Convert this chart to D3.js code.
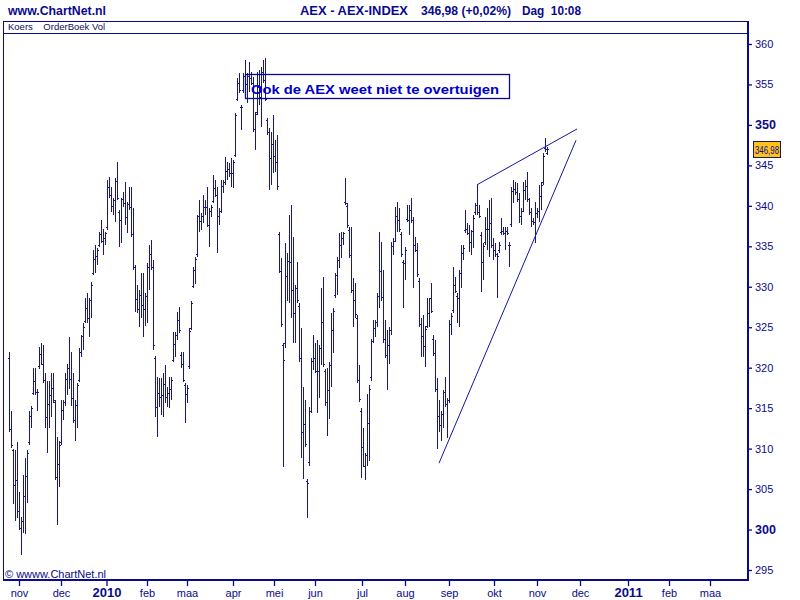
<!DOCTYPE html>
<html>
<head>
<meta charset="utf-8">
<script src="https://cdn.jsdelivr.net/npm/d3@7"></script>
<style>
  body { margin: 0; background: #fff; }
</style>
</head>
<body>
<div id="chart"></div>
<script>
// daily AEX bars, end Oct 2009 .. early Nov 2010
const highs = [
  321.9,314.7,310.0,309.8,310.8,304.6,301.5,306.7,308.9,309.8,
  314.7,315.3,320.0,320.0,317.4,322.5,323.1,322.8,319.3,318.4,
  318.4,319.3,319.3,316.0,311.4,311.0,316.0,316.0,319.3,320.5,
  323.8,321.9,319.3,316.0,318.1,322.4,324.0,325.5,328.6,329.2,
  328.6,330.6,334.5,335.1,334.8,336.8,338.2,337.2,336.8,343.2,
  343.6,342.3,341.0,343.4,345.4,339.5,341.0,341.7,343.0,340.5,
  342.3,342.3,339.7,332.7,330.2,329.6,331.7,331.7,329.2,332.9,
  335.1,335.8,333.3,321.5,318.8,318.7,318.7,319.3,320.3,317.6,
  318.8,318.8,324.4,324.4,326.9,327.5,321.9,321.9,318.1,317.8,
  324.9,328.3,332.4,333.7,338.9,340.7,339.1,341.3,340.7,342.3,
  339.7,340.1,343.8,343.2,342.3,339.7,343.2,343.2,346.0,345.4,
  345.3,345.9,345.7,351.5,355.8,356.4,352.5,356.4,358.0,356.4,
  357.8,356.6,355.9,351.6,356.6,356.8,357.1,358.0,358.3,350.9,
  349.6,349.1,351.2,348.1,348.8,336.8,333.5,323.1,335.4,334.2,
  338.9,340.1,336.1,330.2,333.0,328.0,324.9,317.6,316.0,306.3,
  315.1,321.2,324.0,323.0,323.4,322.8,329.8,331.2,319.9,320.0,
  320.7,326.7,327.4,331.7,333.7,336.6,336.8,336.8,343.4,340.4,
  337.4,337.4,331.1,330.5,326.5,320.3,315.0,312.6,309.5,316.8,
  317.8,323.6,325.9,325.9,329.2,336.8,335.5,332.1,325.9,324.6,
  325.0,335.5,336.0,339.9,340.5,339.7,336.8,333.3,334.9,340.1,
  340.1,341.0,338.6,336.1,335.4,331.1,326.2,326.5,325.2,328.6,
  328.6,330.5,324.0,323.4,318.7,316.0,314.7,317.2,318.8,316.3,
  325.9,326.7,332.4,331.2,329.2,332.1,335.1,335.1,339.5,337.9,
  337.6,337.0,338.9,340.4,342.6,340.1,336.8,335.4,338.6,339.7,
  340.7,341.0,336.0,335.4,334.2,335.5,338.5,337.4,337.4,337.4,
  335.5,342.3,343.2,342.9,342.8,341.6,339.7,342.9,343.2,344.2,
  341.0,339.7,338.5,340.5,339.7,342.6,342.9,346.5,348.4,347.3
];
const lows = [
  312.0,310.1,303.2,301.1,301.4,299.9,296.8,299.6,299.5,303.3,
  310.4,312.6,316.6,316.6,314.7,319.9,320.3,318.1,312.5,309.4,
  312.6,313.9,315.6,306.1,300.5,305.2,310.4,313.5,315.3,316.6,
  317.4,315.3,313.2,311.0,312.6,318.2,321.3,322.2,325.5,325.5,
  323.8,326.2,331.4,331.7,332.7,334.9,335.4,333.9,335.2,337.0,
  341.0,339.2,338.9,338.0,340.7,334.9,335.4,339.9,337.6,336.6,
  339.5,336.1,332.1,326.9,326.7,325.0,326.2,323.8,325.2,325.5,
  329.6,332.1,322.2,313.9,311.4,315.1,314.1,313.9,315.6,315.1,
  315.0,316.0,320.7,321.3,323.4,324.3,320.0,318.2,313.2,315.6,
  319.9,324.6,329.8,330.4,333.7,336.8,337.0,337.9,338.9,337.4,
  334.9,338.6,340.3,341.1,334.2,337.6,339.1,341.6,342.6,343.2,
  343.6,342.3,342.2,346.0,352.9,354.0,349.4,354.0,354.9,352.7,
  354.1,354.9,349.1,346.9,351.2,352.5,349.8,355.2,352.9,348.8,
  342.0,342.6,344.1,344.2,342.0,331.7,325.0,307.7,322.4,328.3,
  328.0,326.1,323.1,323.1,328.0,320.7,308.8,306.3,310.2,301.4,
  307.9,314.4,319.7,319.3,314.4,316.3,320.3,320.1,315.3,311.6,
  313.7,317.6,321.8,328.6,329.0,332.3,333.5,335.1,340.1,337.3,
  333.5,329.2,325.0,326.2,318.1,315.7,306.4,307.7,306.1,307.9,
  308.5,318.4,323.0,323.8,325.0,327.4,328.3,323.0,321.2,317.2,
  320.5,324.0,333.9,335.5,336.8,336.8,333.7,327.4,330.8,338.0,
  336.4,337.9,329.8,334.3,331.2,325.0,321.3,321.3,320.1,324.9,
  325.0,326.7,321.5,317.0,310.0,312.0,311.0,312.5,315.1,311.3,
  315.6,324.0,326.7,329.2,325.5,325.0,329.8,333.3,336.6,336.4,
  334.3,333.9,334.8,338.9,338.9,338.5,329.3,330.8,335.1,334.5,
  333.7,334.8,333.3,333.7,328.6,334.2,336.4,336.4,334.5,336.4,
  332.4,337.4,340.4,341.3,340.5,337.9,337.6,339.2,340.7,340.5,
  338.9,337.4,337.6,335.4,338.5,338.0,339.5,342.6,346.7,346.3
];
const opens = [
  321.2,312.4,309.8,305.5,306.1,302.3,300.2,301.0,304.2,306.6,
  310.8,314.0,316.9,318.3,317.0,320.2,321.7,320.5,318.5,313.9,
  315.5,316.6,317.5,315.7,306.5,308.1,310.8,314.8,315.7,318.6,
  320.0,318.6,316.3,313.5,315.4,318.5,322.0,323.9,325.8,327.4,
  326.2,328.4,331.7,333.4,333.8,335.2,336.5,335.6,336.0,337.4,
  342.3,341.3,340.0,340.7,343.1,339.2,338.2,340.8,340.3,338.6,
  340.2,339.8,336.5,332.5,328.5,327.3,329.0,327.8,327.2,328.8,
  332.4,334.0,332.5,321.2,315.1,316.9,316.4,316.6,318.0,316.4,
  316.9,317.4,321.0,322.9,324.0,325.9,321.6,320.4,317.8,316.7,
  320.2,324.9,330.1,332.1,334.0,338.8,338.1,338.8,339.8,339.9,
  337.6,339.4,340.6,342.2,341.4,338.7,339.4,342.4,343.0,344.3,
  344.5,344.1,344.0,346.3,353.2,355.2,352.2,354.3,356.0,355.0,
  356.0,355.8,355.2,349.5,351.6,354.7,353.5,356.6,355.6,350.6,
  349.1,345.9,347.7,346.2,345.4,336.5,332.0,322.8,323.0,331.3,
  333.2,333.1,329.6,326.7,329.8,327.6,321.2,312.0,313.1,306.0,
  308.3,314.6,320.8,321.2,319.6,319.6,322.4,325.7,319.6,315.8,
  317.2,320.3,324.6,329.0,331.4,333.3,335.2,336.0,340.5,340.0,
  337.0,333.9,329.6,328.4,326.1,318.5,314.6,310.2,307.8,309.2,
  313.2,318.8,323.3,324.9,325.6,328.9,331.9,328.7,323.6,321.6,
  322.8,324.6,335.0,335.7,338.7,338.3,336.5,333.0,332.9,338.4,
  338.3,339.5,338.2,335.2,334.6,330.7,325.4,323.9,322.7,325.2,
  326.8,328.6,323.6,321.8,317.4,314.0,312.9,314.3,317.0,315.5,
  316.0,325.4,327.1,330.2,328.8,328.6,331.7,334.2,337.0,337.2,
  336.7,335.5,336.9,339.3,340.1,339.3,336.4,333.1,335.5,337.1,
  337.2,337.9,335.2,334.6,334.0,334.6,336.8,336.9,336.7,336.9,
  335.1,337.8,341.8,342.1,341.7,340.8,338.7,339.4,342.0,342.4,
  340.8,339.2,338.1,338.0,339.1,339.4,341.2,343.0,347.1,346.5
];
const closes = [
  312.4,310.5,305.5,306.1,302.3,300.2,301.0,304.2,306.6,309.5,
  314.0,315.0,318.3,317.0,317.0,321.7,320.5,318.5,313.9,315.5,
  316.6,317.5,316.0,306.5,308.1,310.5,314.8,315.7,318.6,320.0,
  318.6,316.3,313.5,315.4,317.8,322.0,323.9,325.0,327.4,326.2,
  328.4,330.2,333.4,333.8,334.5,336.5,335.6,336.0,336.6,342.3,
  341.3,340.0,340.7,343.1,341.0,338.2,340.8,340.3,338.6,340.2,
  339.8,336.5,332.5,328.5,327.3,329.0,327.8,327.2,328.8,332.4,
  334.0,332.5,322.8,315.1,316.9,316.4,316.6,318.0,316.4,316.9,
  317.4,318.5,322.9,324.0,325.9,324.6,320.4,318.5,316.7,317.5,
  324.5,328.0,332.1,333.4,338.8,338.1,338.8,339.8,339.9,337.6,
  339.4,339.9,342.2,341.4,338.7,339.4,342.4,343.0,344.3,344.5,
  344.1,344.0,345.4,351.2,355.2,354.3,352.2,356.0,355.0,356.0,
  355.8,355.2,349.5,351.3,354.7,353.5,356.6,355.6,353.2,349.1,
  345.9,347.7,346.2,345.4,342.4,332.0,325.4,321.0,331.3,333.2,
  333.1,329.6,326.7,329.8,328.4,321.2,312.0,313.1,310.6,305.8,
  314.6,320.8,321.2,319.6,319.6,322.4,325.7,320.5,315.8,317.2,
  320.3,324.6,327.0,331.4,333.3,335.2,336.0,336.6,340.4,337.6,
  333.9,329.6,328.4,326.6,318.5,316.1,310.2,307.8,309.2,313.2,
  317.4,323.3,324.9,325.6,328.9,331.9,328.7,323.6,321.6,322.8,
  324.6,335.0,335.7,338.7,338.3,337.1,334.0,332.9,334.5,338.3,
  339.5,338.2,335.2,334.6,331.6,325.4,323.9,322.7,324.8,326.8,
  328.6,327.0,321.8,317.4,314.0,312.9,314.3,317.0,315.5,316.0,
  325.4,326.4,330.2,329.5,328.6,331.7,334.2,334.8,337.2,336.7,
  335.5,336.9,338.5,340.1,339.3,338.8,333.1,335.0,337.1,337.2,
  337.9,335.2,334.6,334.0,333.8,335.2,336.9,336.7,336.9,336.7,
  335.2,341.8,342.1,341.7,340.8,338.7,339.4,342.0,342.4,340.8,
  339.2,338.1,338.0,339.1,339.4,341.2,342.6,346.2,347.0,347.0
];

// trendlines: [bar index, level]
const trendLower = [[215, 308.2], [283.5, 348.1]];
const trendUpper = [[234, 342.6], [284, 349.5]];

const priceTicks = [295, 300, 305, 310, 315, 320, 325, 330, 335, 340, 345, 350, 355, 360];
const boldTicks = [300, 350];
const monthLabels = ["nov", "dec", "2010", "feb", "maa", "apr", "mei", "jun", "jul", "aug", "sep", "okt", "nov", "dec", "2011", "feb", "maa"];
const monthAt = [5, 26, 48.75, 69, 89, 112, 132.5, 153, 176.5, 198, 220, 242.5, 264, 285.5, 309.5, 330, 350.5];

const lastPrice = "346,98";
const lastValue = 346.98;
const note = "Ook de AEX weet niet te overtuigen";

const W = 800, H = 600;
const navy = "#0a0a8c";
const barColor = "#1414a2";
const fontFam = "'Liberation Sans', Arial, sans-serif";
const narrow = "'Liberation Sans Narrow', 'Arial Narrow', 'Liberation Sans', Arial, sans-serif";

const svg = d3.select("#chart").append("svg")
  .attr("width", W).attr("height", H)
  .style("font-family", fontFam);

svg.append("rect").attr("width", W).attr("height", H).attr("fill", "#fff");

const x = d3.scaleLinear().domain([0, 370]).range([9, 749]);
const y = d3.scaleLinear().domain([295, 360]).range([570, 44]);

// header
svg.append("text").attr("x", 8).attr("y", 15)
  .attr("font-family", narrow).attr("font-weight", "bold").attr("font-size", 13)
  .attr("fill", navy).attr("textLength", 98).attr("lengthAdjust", "spacingAndGlyphs")
  .text("www.ChartNet.nl");

const head = [
  { t: "AEX - AEX-INDEX", x: 300, w: 108 },
  { t: "346,98 (+0,02%)", x: 421, w: 90 },
  { t: "Dag  10:08", x: 522, w: 59 }
];
svg.selectAll(".head").data(head).enter().append("text")
  .attr("class", "head")
  .attr("x", d => d.x).attr("y", 15)
  .attr("font-family", narrow).attr("font-weight", "bold").attr("font-size", 13)
  .attr("fill", navy)
  .attr("textLength", d => d.w).attr("lengthAdjust", "spacingAndGlyphs")
  .style("white-space", "pre")
  .text(d => d.t);

// frame
const frame = svg.append("g").attr("shape-rendering", "crispEdges");
frame.append("line").attr("x1", 4).attr("x2", 748).attr("y1", 21.5).attr("y2", 21.5)
  .attr("stroke", navy).attr("stroke-width", 1);
frame.append("line").attr("x1", 4).attr("x2", 748).attr("y1", 33.5).attr("y2", 33.5)
  .attr("stroke", navy).attr("stroke-width", 1);
frame.append("line").attr("x1", 3.5).attr("x2", 3.5).attr("y1", 21).attr("y2", 581)
  .attr("stroke", navy).attr("stroke-width", 1);
frame.append("line").attr("x1", 3).attr("x2", 749).attr("y1", 580).attr("y2", 580)
  .attr("stroke", navy).attr("stroke-width", 2);
frame.append("line").attr("x1", 748).attr("x2", 748).attr("y1", 21).attr("y2", 581)
  .attr("stroke", navy).attr("stroke-width", 2);

svg.append("text").attr("x", 8).attr("y", 30)
  .attr("font-size", 9.5).attr("fill", "#10105a")
  .style("white-space", "pre")
  .text("Koers    OrderBoek Vol");

svg.append("text").attr("x", 5).attr("y", 578)
  .attr("font-size", 11).attr("fill", navy)
  .text("\u00a9 wwww.ChartNet.nl");

// bars
const bars = d3.range(highs.length).map(i => ({
  i: i, h: highs[i], l: lows[i], o: opens[i], c: closes[i]
}));

const gb = svg.append("g").attr("fill", barColor).attr("shape-rendering", "crispEdges");
const bar = gb.selectAll("g").data(bars).enter().append("g");
bar.append("rect")
  .attr("x", d => Math.round(x(d.i)))
  .attr("y", d => Math.round(y(d.h)))
  .attr("width", 1)
  .attr("height", d => Math.max(1, Math.round(y(d.l)) - Math.round(y(d.h))));
bar.append("rect")
  .attr("x", d => Math.round(x(d.i)) - 1)
  .attr("y", d => Math.round(y(d.o)))
  .attr("width", 1).attr("height", 1);
bar.append("rect")
  .attr("x", d => Math.round(x(d.i)) + 1)
  .attr("y", d => Math.round(y(d.c)))
  .attr("width", 1).attr("height", 1);

// trendlines
const tl = d3.line().x(d => x(d[0])).y(d => y(d[1]));
[trendLower, trendUpper].forEach(t => {
  svg.append("path").attr("d", tl(t))
    .attr("fill", "none").attr("stroke", barColor).attr("stroke-width", 1);
});

// note box
svg.append("rect").attr("x", 245.5).attr("y", 74.5).attr("width", 264).attr("height", 24)
  .attr("fill", "none").attr("stroke", navy).attr("stroke-width", 1.3);
svg.append("text").attr("x", 251).attr("y", 94)
  .attr("font-weight", "bold").attr("font-size", 13.5).attr("fill", "#0000c8")
  .attr("textLength", 248).attr("lengthAdjust", "spacingAndGlyphs")
  .text(note);

// right price axis
const ya = svg.append("g").attr("transform", "translate(748,0)")
  .call(d3.axisRight(y).tickValues(priceTicks).tickSize(4).tickPadding(3).tickFormat(d3.format("d")));
ya.select(".domain").remove();
ya.selectAll(".tick line").attr("stroke", navy).attr("stroke-width", 1.3);
ya.selectAll(".tick text")
  .attr("fill", navy)
  .attr("font-family", fontFam)
  .attr("font-size", d => boldTicks.includes(d) ? 12.5 : 11)
  .attr("font-weight", d => boldTicks.includes(d) ? "bold" : "normal");

// last price label
const py = y(lastValue);
svg.append("rect").attr("x", 753.5).attr("y", Math.round(py) - 7.5).attr("width", 27).attr("height", 16)
  .attr("fill", "#ffc21c").attr("stroke", "#1a1a50").attr("stroke-width", 1);
svg.append("text").attr("x", 755).attr("y", Math.round(py) + 4.5)
  .attr("font-size", 11).attr("fill", navy)
  .attr("textLength", 24).attr("lengthAdjust", "spacingAndGlyphs")
  .text(lastPrice);

// month axis
const isYear = (i) => /^\d/.test(monthLabels[i]);
const xa = svg.append("g").attr("transform", "translate(0,581)")
  .call(d3.axisBottom(x).tickValues(monthAt).tickSize(5).tickPadding(2)
    .tickFormat((d, i) => monthLabels[i]));
xa.select(".domain").remove();
xa.selectAll(".tick line").attr("stroke", navy).attr("stroke-width", 1.3);
xa.selectAll(".tick text")
  .attr("fill", navy)
  .attr("font-family", fontFam)
  .attr("font-size", (d, i) => isYear(i) ? 13 : 11)
  .attr("font-weight", (d, i) => isYear(i) ? "bold" : "normal")
  .attr("dy", null)
  .attr("y", 15.5);
</script>
</body>
</html>
